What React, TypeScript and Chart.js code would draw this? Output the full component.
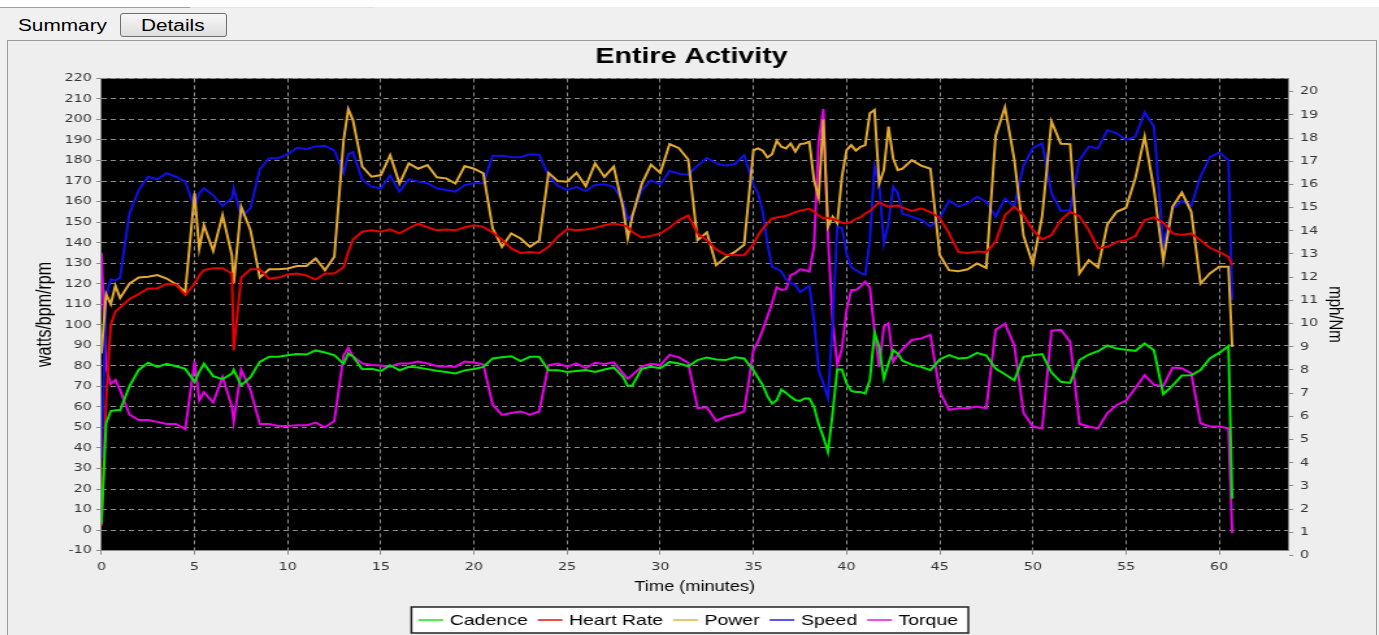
import React, { useEffect, useRef } from "react";
import { Chart, registerables } from "chart.js";

Chart.register(...registerables);

// Time in minutes (shared by all series)
const TIMES = [
  0, 0.25, 0.5, 0.75, 1, 1.5, 2, 2.5, 3, 3.5, 4, 4.5,
  5, 5.25, 5.5, 6, 6.5, 7, 7.1, 7.5, 8,
  8.5, 9, 9.5, 10, 10.5, 11, 11.5, 12, 12.5,
  13, 13.25, 13.5, 14, 14.5, 15, 15.5, 16, 16.5,
  17, 17.5, 18, 18.5, 19, 19.5, 20, 20.5, 21, 21.5,
  22, 22.5, 23, 23.5, 24, 24.5, 25, 25.5, 26, 26.5, 27, 27.5,
  28, 28.25, 28.5, 29, 29.5, 30, 30.5, 31, 31.5,
  32, 32.5, 33, 33.5, 34, 34.5,
  35, 35.25, 35.5, 35.75, 36, 36.25, 36.5, 36.75, 37, 37.25, 37.5, 37.75,
  38, 38.25, 38.5, 38.75, 39, 39.25, 39.5, 39.75, 40, 40.25, 40.5, 40.75,
  41, 41.25, 41.5, 41.75, 42, 42.25, 42.5, 42.75, 43,
  43.5, 44, 44.5, 45, 45.5, 46, 46.5, 47, 47.5,
  48, 48.5, 49, 49.5, 50, 50.5, 51, 51.5, 52, 52.5,
  53, 53.5, 54, 54.5, 55, 55.5, 56, 56.5, 57, 57.5,
  58, 58.5, 59, 59.5, 60, 60.5, 60.7,
];

// rpm (left axis)
const CADENCE = [
  3, 52, 58, 58.4, 58.4, 70, 78, 81.5, 79.5, 81, 79.8, 78.5,
  72.2, 77, 81, 75, 73.5, 76.2, 78, 70.5, 74.5,
  81.9, 84.4, 84.4, 85.2, 85.8, 85.5, 87.5, 86.5, 85.2,
  81, 86, 84.5, 78.3, 78.6, 77.5, 80.3, 77.8, 79.5,
  79.2, 78.4, 77.6, 77, 76.3, 77.8, 78.5, 79.5, 83.6, 84.2,
  84.7, 82.3, 84.4, 84.4, 77.9, 77.9, 77, 77.5, 77.9, 77, 78.2, 79.2,
  74.6, 70.2, 70.4, 78.5, 79.5, 78.8, 81.9, 81.1, 79.8,
  82.8, 84, 83.1, 82.8, 84.2, 83.6,
  77.9, 74.1, 70.6, 65.2, 61.6, 63.3, 68.4, 66.8, 64.9, 63.3, 62.9, 64.1,
  64.1, 60, 51.6, 45.4, 38.1, 56.8, 78.2, 78.2, 71.4, 67.8, 67.3, 67.3,
  66.5, 73, 96, 89.2, 73.8, 81.1, 87.6, 86, 82.5,
  80.6, 79.5, 77.9, 83.1, 85.2, 83.6, 83.9, 86.3, 85,
  78.7, 75.9, 73, 84.4, 85.2, 85.7, 76.7, 72.2, 71.7, 82.8,
  85.5, 87.1, 89.9, 88.4, 87.8, 87.3, 90.9, 87.6, 66.2, 70.4,
  75.3, 75.4, 77.9, 83.6, 86.3, 89.6, 15.3,
];

// bpm (left axis)
const HEART_RATE = [
  2, 63, 100, 106.5, 108.5, 112.5, 115, 117.7, 117.7, 120, 119.5, 114.5,
  120, 124, 126.6, 127.5, 127.5, 125, 87.6, 123, 127,
  127, 122.5, 123, 124.5, 125, 124, 122, 125, 125,
  128, 135.5, 141.5, 145.3, 146, 145.3, 146.5, 144.5, 147,
  149.2, 147.5, 146, 146.4, 146, 147.5, 148.5, 147.7, 145, 141.5,
  137.2, 135, 135.4, 135, 138, 142.9, 146.6, 146.1, 146.4, 147.2, 148.5, 149.3,
  148.4, 147.7, 145.1, 142.5, 143.3, 144.5, 147.4, 151, 153.2,
  144.5, 141.2, 136.7, 134.1, 133.9, 133.9,
  139.2, 143.7, 146.9, 149.4, 151.8, 152.3, 152.6, 153.1, 153.9, 154.9, 155.5, 156,
  156.5, 155, 153.4, 151.8, 152.1, 151.5, 150.8, 149.7, 149.4, 150.2, 151.6, 152.4,
  154.2, 155.4, 157.5, 159.7, 158.4, 157.5, 157.8, 158.1, 157,
  155.4, 156.7, 154.9, 152.1, 144.5, 135.5, 135, 135.7, 135.4,
  140.4, 153.4, 157.5, 153.4, 146.1, 141.6, 143.7, 151, 155, 152.9,
  146.1, 137.2, 138, 140.4, 141.2, 143.2, 151, 152.3, 149.7, 144.5,
  143.7, 144.5, 141.2, 137.5, 135.5, 133.1, 129,
];

// watts (left axis)
const POWER = [
  86, 115, 110, 119, 113, 120, 123, 123.4, 124.2, 122.5, 119.8, 116,
  164, 137, 148.5, 136, 153.4, 134, 120, 157.5, 146,
  123, 127, 127, 127.4, 128.6, 128.6, 132.3, 126.6, 133.1,
  190, 205, 199.7, 177, 172.1, 172.9, 182.6, 168.8, 178.6,
  176, 177.8, 171.8, 171.3, 168.8, 177.3, 176, 173.7, 147, 138,
  144.5, 142, 138, 141, 174, 170, 169.7, 174, 167.5, 178.6, 172, 177,
  157, 142, 153, 168.5, 178, 174, 188, 186, 180.5,
  141.2, 145, 129, 132.8, 135.5, 139,
  185, 185.9, 184.8, 181.5, 183.1, 189.6, 186.7, 185.9, 188.3, 184.3, 188, 188.3,
  189.1, 170.5, 162, 200, 147.7, 152.6, 149.4, 172.1, 185.1, 187.5, 184.8, 186.7,
  187.5, 203, 204.6, 168.8, 175.3, 196.5, 181, 175.3, 176,
  180.2, 177.5, 176, 134, 126.6, 126.1, 127, 129.9, 127.7,
  192, 206, 180.7, 143.3, 129.5, 153, 199, 188.2, 188, 125,
  131.5, 127.9, 148.9, 155, 157, 171.3, 191.7, 166, 131.3, 157.6,
  164.4, 155, 120.1, 125, 128.2, 128.2, 89.2,
];

// mph (right axis)
const SPEED = [
  4.21, 11.11, 11.91, 11.86, 11.99, 14.74, 15.76, 16.33, 16.22, 16.48, 16.33, 16.12,
  14.98, 15.62, 15.83, 15.53, 15.07, 15.4, 15.83, 14.61, 14.98,
  16.65, 17.13, 17.13, 17.3, 17.58, 17.53, 17.63, 17.66, 17.46,
  16.48, 17.3, 17.39, 16.2, 15.9, 15.83, 16.37, 15.69, 16.22,
  16.12, 16.05, 15.83, 15.76, 15.69, 15.97, 16.05, 16.05, 17.23, 17.23,
  17.17, 17.17, 17.3, 17.28, 16.37, 15.93, 15.76, 15.89, 15.71, 15.97, 16.0, 15.9,
  15.27, 14.5, 14.68, 15.75, 16.18, 15.99, 16.59, 16.46, 16.42,
  16.81, 17.14, 16.91, 16.81, 16.88, 17.26,
  15.97, 15.62, 14.82, 13.46, 12.45, 12.37, 12.24, 11.9, 11.74, 11.67, 11.35, 11.49,
  11.62, 10.15, 8.0, 7.43, 6.78, 10.01, 14.18, 14.11, 13.03, 12.43, 12.31, 12.17,
  12.1, 13.6, 16.77, 16.05, 13.46, 14.33, 15.9, 15.62, 14.74,
  14.61, 14.47, 14.18, 14.54, 15.3, 15.05, 15.19, 15.47, 15.26,
  14.61, 15.39, 15.05, 16.81, 17.56, 17.77, 15.62, 14.86, 14.89, 17.05,
  17.63, 17.56, 18.34, 18.2, 17.92, 18.06, 19.1, 18.49, 13.36, 14.96,
  15.28, 15.07, 16.34, 17.17, 17.37, 17.05, 11.02,
];

// Nm (right axis)
const TORQUE = [
  13.05, 8.1, 7.39, 7.57, 7.13, 6.08, 5.84, 5.84, 5.76, 5.67, 5.67, 5.45,
  8.37, 6.69, 7.04, 6.6, 7.7, 6.42, 5.77, 8.01, 7.13,
  5.67, 5.67, 5.58, 5.58, 5.62, 5.61, 5.73, 5.53, 5.8,
  8.63, 8.94, 8.59, 8.28, 8.21, 8.19, 8.14, 8.28, 8.28,
  8.36, 8.28, 8.17, 8.15, 8.14, 8.36, 8.32, 8.23, 6.51, 6.06,
  6.14, 6.21, 6.07, 6.21, 8.21, 8.28, 8.14, 8.28, 8.08, 8.31, 8.26, 8.33,
  7.85, 7.62, 7.78, 8.14, 8.27, 8.21, 8.65, 8.54, 8.31,
  6.35, 6.39, 5.8, 5.98, 6.07, 6.21,
  8.86, 9.22, 9.73, 10.3, 10.88, 11.57, 11.45, 11.48, 12.1, 12.17, 12.34, 12.31,
  12.24, 13.32, 17.84, 19.25, 13.75, 10.15, 8.21, 8.93, 10.59, 11.45, 11.45, 11.59,
  11.81, 11.55, 9.66, 8.12, 9.87, 10.01, 8.36, 8.65, 8.9,
  9.29, 9.36, 9.51, 7.06, 6.28, 6.35, 6.35, 6.42, 6.35,
  9.73, 9.99, 9.07, 6.14, 5.56, 5.48, 9.69, 9.73, 9.22, 5.68,
  5.56, 5.48, 6.14, 6.49, 6.68, 7.21, 7.78, 7.36, 7.3, 8.1,
  8.07, 7.85, 5.7, 5.56, 5.56, 5.48, 0.96,
];

const RIGHT_TICKS = [0, 1, 2, 3, 4, 5, 6, 7, 8, 9, 10, 11, 12, 13, 14, 15, 16, 17, 18, 19, 20];

const SERIES = [
  { label: "Cadence", values: CADENCE, color: "#00e600", axis: "y" },
  { label: "Heart Rate", values: HEART_RATE, color: "#e60000", axis: "y" },
  { label: "Power", values: POWER, color: "#e2aa30", axis: "y" },
  { label: "Speed", values: SPEED, color: "#1010e8", axis: "y1" },
  { label: "Torque", values: TORQUE, color: "#e600e6", axis: "y1" },
];

const CANVAS_W = 1052;
const CANVAS_H = 594;
const CSS_W = 1367;

const SANS = '"Liberation Sans", Arial, sans-serif';
const TICK_FONT = { family: '"DejaVu Sans", sans-serif', size: 11 };

// legend layout (canvas units)
const LEG = { font: 15, line: 19, gap: 5, itemGap: 7.7, center: 523.5, top: 566, bottom: 592 };

const backdropPlugin = {
  id: "backdrop",
  beforeDraw(chart: any) {
    const { ctx, chartArea: a } = chart;
    ctx.save();
    ctx.fillStyle = "#000";
    ctx.fillRect(a.left, a.top, a.right - a.left, a.bottom - a.top);
    ctx.restore();
  },
  afterDraw(chart: any) {
    const { ctx } = chart;
    const ds = chart.data.datasets;
    ctx.save();
    ctx.font = `${LEG.font}px ${SANS}`;
    const widths = ds.map((d: any) => ctx.measureText(d.label).width);
    const total =
      widths.reduce((s: number, w: number) => s + w + LEG.line + LEG.gap, 0) + LEG.itemGap * (ds.length - 1);
    const start = LEG.center - total / 2;
    const l = start - 5.5;
    const r = start + total + 8;
    ctx.fillStyle = "#fff";
    ctx.fillRect(l, LEG.top, r - l, LEG.bottom - LEG.top);
    ctx.strokeStyle = "#222";
    ctx.lineWidth = 1.5;
    ctx.strokeRect(l, LEG.top, r - l, LEG.bottom - LEG.top);
    const cy = (LEG.top + LEG.bottom) / 2;
    let x = start;
    ds.forEach((d: any, i: number) => {
      ctx.strokeStyle = d.borderColor;
      ctx.lineWidth = 1.4;
      ctx.beginPath();
      ctx.moveTo(x, cy);
      ctx.lineTo(x + LEG.line, cy);
      ctx.stroke();
      x += LEG.line + LEG.gap;
      ctx.fillStyle = "#000";
      ctx.textAlign = "left";
      ctx.textBaseline = "middle";
      ctx.fillText(d.label, x, cy + 0.5);
      x += widths[i] + LEG.itemGap;
    });
    ctx.restore();
  },
};

export default function App() {
  const ref = useRef<HTMLCanvasElement>(null);

  useEffect(() => {
    const canvas = ref.current;
    if (!canvas) return;
    const datasets = SERIES.map((s) => ({
      label: s.label,
      data: TIMES.map((t, i) => ({ x: t, y: s.values[i] })),
      borderColor: s.color,
      backgroundColor: s.color,
      borderWidth: 2,
      pointRadius: 0,
      pointHoverRadius: 0,
      fill: false,
      tension: 0,
      yAxisID: s.axis,
    }));
    const gridCommon = {
      color: "#8c8c8c",
      lineWidth: 1,
      tickColor: "#8a8a8a",
      tickLength: 4,
      tickBorderDash: [],
    };
    const chart = new Chart(canvas, {
      type: "line",
      data: { datasets },
      options: {
        responsive: false,
        animation: false,
        devicePixelRatio: 1,
        layout: { padding: { top: 0, left: 0, right: 0, bottom: 27 } },
        events: [],
        plugins: {
          title: {
            display: true,
            text: "Entire Activity",
            color: "#000",
            font: { family: SANS, size: 22, weight: "bold" },
            padding: { top: 3, bottom: 8 },
          },
          legend: { display: false },
          tooltip: { enabled: false },
        },
        scales: {
          x: {
            type: "linear",
            min: 0,
            max: 63.7,
            ticks: {
              stepSize: 5,
              includeBounds: false,
              color: "#333",
              font: TICK_FONT,
              padding: 5.8,
              maxRotation: 0,
              autoSkip: false,
            },
            grid: { ...gridCommon, drawOnChartArea: true },
            border: { display: true, color: "#8a8a8a", width: 1, dash: [4, 3] },
            title: {
              display: true,
              text: "Time (minutes)",
              color: "#000",
              font: { family: SANS, size: 14 },
              padding: { top: 0, bottom: 12.6 },
            },
            afterFit: (s: any) => {
              s.height = 57.4;
            },
          },
          y: {
            type: "linear",
            position: "left",
            min: -10,
            max: 220,
            ticks: {
              stepSize: 10,
              color: "#333",
              font: TICK_FONT,
              padding: 3.5,
              autoSkip: false,
            },
            grid: { ...gridCommon, drawOnChartArea: true },
            border: { display: true, color: "#8a8a8a", width: 1, dash: [4, 3] },
            title: {
              display: true,
              text: "watts/bpm/rpm",
              color: "#000",
              font: { family: SANS, size: 16 },
              padding: { top: 19, bottom: 0 },
            },
            afterFit: (s: any) => {
              s.width = 71.9;
            },
          },
          y1: {
            type: "linear",
            position: "right",
            min: 0.21,
            max: 20.57,
            ticks: {
              stepSize: 1,
              includeBounds: false,
              color: "#333",
              font: TICK_FONT,
              padding: 5.2,
              autoSkip: false,
            },
            afterBuildTicks: (s: any) => {
              s.ticks = RIGHT_TICKS.map((v) => ({ value: v }));
            },
            grid: { ...gridCommon, drawOnChartArea: false },
            border: { display: true, color: "#8a8a8a", width: 1 },
            title: {
              display: true,
              text: "mph/Nm",
              color: "#000",
              font: { family: SANS, size: 15 },
              padding: { top: 21.8, bottom: 0 },
            },
            afterFit: (s: any) => {
              s.width = 66.9;
            },
          },
        },
      } as any,
      plugins: [backdropPlugin],
    });
    return () => chart.destroy();
  }, []);

  const stretch = {
    display: "inline-block",
    transform: "scaleX(1.3)",
    transformOrigin: "left center",
    whiteSpace: "nowrap" as const,
  };

  return (
    <div
      style={{
        position: "fixed",
        left: 0,
        top: 0,
        width: 1379,
        height: 635,
        overflow: "hidden",
        background: "#f0f0f0",
        fontFamily: SANS,
      }}
    >
      <div style={{ position: "absolute", left: 0, top: 0, width: 1379, height: 7, background: "#ffffff" }} />
      <div style={{ position: "absolute", left: 0, top: 7, width: 190, height: 1, background: "#a0a0a0" }} />
      <div style={{ position: "absolute", left: 190, top: 7, width: 185, height: 1, background: "#d6e6f2" }} />
      <div style={{ position: "absolute", left: 18, top: 17, height: 18, fontSize: 16, lineHeight: "18px", color: "#000" }}>
        <span style={stretch}>Summary</span>
      </div>
      <div
        style={{
          position: "absolute",
          left: 120,
          top: 13,
          width: 105,
          height: 22,
          border: "1px solid #6e6e6e",
          borderRadius: 3,
          background: "linear-gradient(#f7f7f7, #dedede)",
        }}
      >
        <div style={{ position: "absolute", left: 20, top: 3, fontSize: 16, lineHeight: "18px", color: "#000" }}>
          <span style={stretch}>Details</span>
        </div>
      </div>
      <div
        style={{
          position: "absolute",
          left: 7,
          top: 40,
          width: 1368,
          height: 620,
          borderTop: "1px solid #9a9a9a",
          borderLeft: "1px solid #9a9a9a",
          borderRight: "1px solid #9a9a9a",
          background: "#eeeeee",
        }}
      />
      <canvas
        ref={ref}
        width={CANVAS_W}
        height={CANVAS_H}
        style={{ position: "absolute", left: 8, top: 41, width: CSS_W, height: CANVAS_H }}
      />
    </div>
  );
}
